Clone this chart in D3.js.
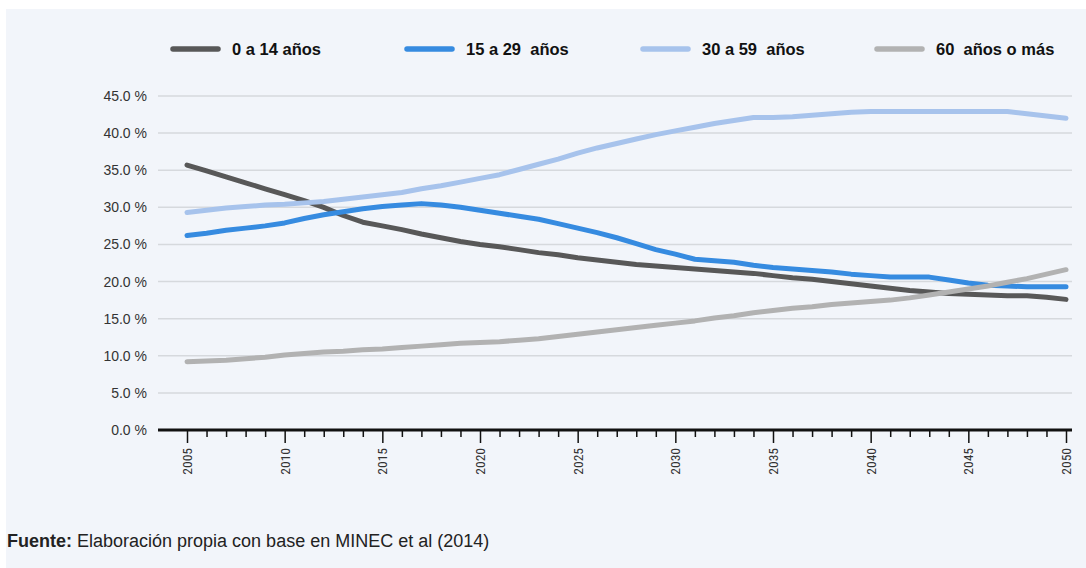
<!DOCTYPE html>
<html>
<head>
<meta charset="utf-8">
<script src="https://cdn.jsdelivr.net/npm/d3@7"></script>
<style>
  body { margin: 0; background: #fff; }
  svg text { font-family: "Liberation Sans", Roboto, Arial, sans-serif; }
</style>
</head>
<body>
<div class="graph"></div>
<script>
// data //
let years = d3.range(2005, 2051);
let seriesNames = ['0 a 14 años', '15 a 29  años', '30 a 59  años', '60  años o más'];
let colors = ['#585858', '#368be0', '#a7c3ec', '#b2b2b2'];

let age0_14 = [35.7, 34.9, 34.1, 33.3, 32.5, 31.7, 30.9, 30.0, 28.9, 28.0,
    27.5, 27.0, 26.4, 25.9, 25.4, 25.0, 24.7, 24.3, 23.9, 23.6,
    23.2, 22.9, 22.6, 22.3, 22.1, 21.9, 21.7, 21.5, 21.3, 21.1,
    20.8, 20.5, 20.3, 20.0, 19.7, 19.4, 19.1, 18.8, 18.6, 18.4,
    18.3, 18.2, 18.1, 18.1, 17.9, 17.6];
let age15_29 = [26.2, 26.5, 26.9, 27.2, 27.5, 27.9, 28.5, 29.0, 29.4, 29.8,
    30.1, 30.3, 30.5, 30.3, 30.0, 29.6, 29.2, 28.8, 28.4, 27.8,
    27.2, 26.6, 25.9, 25.1, 24.3, 23.7, 23.0, 22.8, 22.6, 22.2,
    21.9, 21.7, 21.5, 21.3, 21.0, 20.8, 20.6, 20.6, 20.6, 20.2,
    19.8, 19.5, 19.4, 19.3, 19.3, 19.3];
let age30_59 = [29.3, 29.6, 29.9, 30.1, 30.3, 30.4, 30.6, 30.8, 31.1, 31.4,
    31.7, 32.0, 32.5, 32.9, 33.4, 33.9, 34.4, 35.1, 35.8, 36.5,
    37.3, 38.0, 38.6, 39.2, 39.8, 40.3, 40.8, 41.3, 41.7, 42.1,
    42.1, 42.2, 42.4, 42.6, 42.8, 42.9, 42.9, 42.9, 42.9, 42.9,
    42.9, 42.9, 42.9, 42.6, 42.3, 42.0];
let age60 = [9.2, 9.3, 9.4, 9.6, 9.8, 10.1, 10.3, 10.5, 10.6, 10.8,
    10.9, 11.1, 11.3, 11.5, 11.7, 11.8, 11.9, 12.1, 12.3, 12.6,
    12.9, 13.2, 13.5, 13.8, 14.1, 14.4, 14.7, 15.1, 15.4, 15.8,
    16.1, 16.4, 16.6, 16.9, 17.1, 17.3, 17.5, 17.8, 18.2, 18.6,
    19.0, 19.4, 19.9, 20.4, 21.0, 21.6];
let yTicks = [0, 5, 10, 15, 20, 25, 30, 35, 40, 45];
let xLabels = [2005, 2010, 2015, 2020, 2025, 2030, 2035, 2040, 2045, 2050];

let allSeries = [age0_14, age15_29, age30_59, age60];

// sizes //
let w = 1086;
let h = 568;

let svg = d3.select('.graph')
    .append('svg')
    .attr('width', w)
    .attr('height', h);

// panel
svg.append('rect')
    .attr('x', 6)
    .attr('y', 9)
    .attr('width', w - 6)
    .attr('height', h - 9)
    .style('fill', '#f2f5fa');

let xScale = d3.scaleLinear()
    .domain([2005, 2050])
    .range([187, 1066]);

let yScale = d3.scaleLinear()
    .domain([0, 45])
    .range([430, 96]);

// gridlines
svg.append('g')
    .selectAll('line')
    .data(yTicks.filter(d => d > 0))
    .enter()
    .append('line')
    .attr('x1', 158)
    .attr('x2', 1072)
    .attr('y1', d => yScale(d))
    .attr('y2', d => yScale(d))
    .style('stroke', '#d6d9dd')
    .style('stroke-width', 1.5);

// y axis labels
let yAxis = d3.axisLeft(yScale)
    .tickValues(yTicks)
    .tickSize(0)
    .tickPadding(11)
    .tickFormat(d => d.toFixed(1) + ' %');

let gy = svg.append('g')
    .attr('transform', 'translate(158, 0)')
    .call(yAxis);
gy.select('.domain').remove();
gy.selectAll('text')
    .style('font-size', '14px')
    .style('fill', '#333');

// x axis
let xAxis = d3.axisBottom(xScale)
    .tickValues(years)
    .tickSize(0)
    .tickFormat('');

let gx = svg.append('g')
    .attr('transform', 'translate(0, 430)')
    .call(xAxis);
gx.select('.domain').remove();

gx.append('line')
    .attr('x1', 158)
    .attr('x2', 1072)
    .style('stroke', '#111')
    .style('stroke-width', 3);

gx.selectAll('.tick line')
    .attr('y2', d => d % 5 === 0 ? 13 : 7)
    .style('stroke', '#111')
    .style('stroke-width', 1.5);

// rotated year labels
gx.selectAll('.xlab')
    .data(xLabels)
    .enter()
    .append('text')
    .attr('class', 'xlab')
    .attr('transform', d => 'translate(' + (xScale(d) + 5) + ', 18) rotate(-90)')
    .attr('text-anchor', 'end')
    .style('font-family', '"Liberation Sans Narrow", "Roboto Condensed", sans-serif')
    .style('font-size', '13.5px')
    .style('fill', '#333')
    .text(d => d);

// lines
let line = d3.line()
    .x((d, i) => xScale(years[i]))
    .y(d => yScale(d));

svg.append('g')
    .selectAll('path')
    .data(allSeries)
    .enter()
    .append('path')
    .attr('d', d => line(d))
    .style('fill', 'none')
    .style('stroke', (d, i) => colors[i])
    .style('stroke-width', 5)
    .style('stroke-linecap', 'round')
    .style('stroke-linejoin', 'round');

// legend
let legendX = [171, 405, 641, 875];
let legend = svg.append('g')
    .selectAll('g')
    .data(seriesNames)
    .enter()
    .append('g')
    .attr('transform', (d, i) => 'translate(' + legendX[i] + ', 49)');

legend.append('line')
    .attr('x1', 2)
    .attr('x2', 47)
    .style('stroke', (d, i) => colors[i])
    .style('stroke-width', 5.5)
    .style('stroke-linecap', 'round');

legend.append('text')
    .attr('x', 61)
    .attr('y', 6)
    .style('font-size', '16.5px')
    .style('font-weight', 'bold')
    .style('fill', '#111')
    .style('white-space', 'pre')
    .text(d => d);

// source
let src = svg.append('text')
    .attr('x', 7)
    .attr('y', 547)
    .style('font-size', '18px')
    .style('fill', '#222');
src.append('tspan').style('font-weight', 'bold').text('Fuente:');
src.append('tspan').text(' Elaboración propia con base en MINEC et al (2014)');
</script>
</body>
</html>
